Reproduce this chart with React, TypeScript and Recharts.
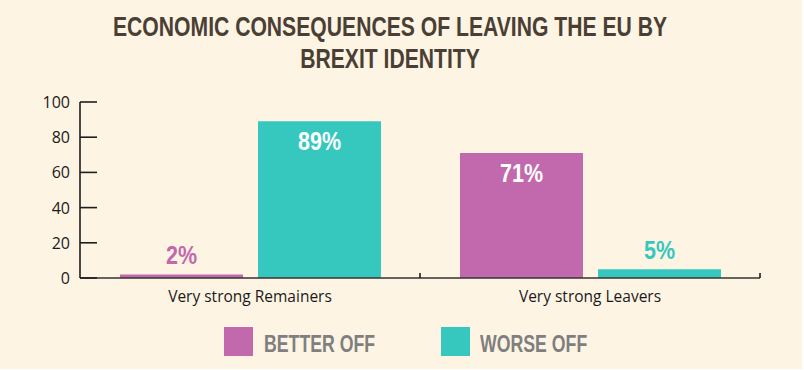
import React from 'react';
import { BarChart, Bar, XAxis, YAxis, LabelList } from 'recharts';

const categories = ['Very strong Remainers', 'Very strong Leavers'];
const betterOff = [2, 71];
const worseOff = [89, 5];
const yTicks = [0, 20, 40, 60, 80, 100];
const seriesNames = ['BETTER OFF', 'WORSE OFF'];
const titleLines = ['ECONOMIC CONSEQUENCES OF LEAVING THE EU BY', 'BREXIT IDENTITY'];

const MAGENTA = '#c269ad';
const TEAL = '#36c8bf';
const BG = '#fef4e4';
const BOLDFONT = '"Liberation Sans", Arial, sans-serif';
const SANS = '"Open Sans", "Noto Sans", sans-serif';

const data = categories.map((c, i) => ({ category: c, better: betterOff[i], worse: worseOff[i] }));

const BAND = 340;

const YTick = (props: any) => {
  const { x, y, payload } = props;
  return (
    <g>
      <line x1={x} x2={x + 17} y1={y} y2={y} stroke="#1e1e1e" strokeWidth={1.6} />
      <text x={x - 10} y={y} dy={6} textAnchor="end" fontSize={16} fill="#1a1a1a" fontFamily={SANS}>
        {payload.value}
      </text>
    </g>
  );
};

const XTick = (props: any) => {
  const { x, y, payload } = props;
  return (
    <g>
      <line x1={x + BAND / 2} x2={x + BAND / 2} y1={y} y2={y - 5} stroke="#1e1e1e" strokeWidth={1.6} />
      <text x={x} y={y} dy={24} textAnchor="middle" fontSize={15.5} fill="#1a1a1a" fontFamily={SANS}>
        {payload.value}
      </text>
    </g>
  );
};

const makeLabel = (color: string) => (props: any) => {
  const { x, y, width, value } = props;
  const inside = Number(value) >= 10;
  const cx = Number(x) + Number(width) / 2;
  const cy = inside ? Number(y) + 29 : Number(y) - 10;
  return (
    <text
      transform={`translate(${cx},${cy}) scale(0.86,1)`}
      textAnchor="middle"
      fill={inside ? '#ffffff' : color}
      fontFamily={BOLDFONT}
      fontWeight="bold"
      fontSize={25}
    >
      {value}%
    </text>
  );
};

export default function App() {
  return (
    <div style={{ position: 'absolute', left: 0, top: 0, width: 802, height: 369, background: BG, overflow: 'hidden' }}>
      <div
        style={{
          position: 'absolute',
          top: 11,
          left: 0,
          width: 780,
          textAlign: 'center',
          fontFamily: BOLDFONT,
          fontWeight: 'bold',
          fontSize: 28,
          lineHeight: '32px',
          color: '#4a3f34',
          transform: 'scaleX(0.755)',
          transformOrigin: '390px 0',
        }}
      >
        {titleLines.map((t) => (
          <div key={t}>{t}</div>
        ))}
      </div>
      <div style={{ position: 'absolute', left: 0, top: 0 }}>
        <BarChart
          width={804}
          height={370}
          data={data}
          margin={{ top: 102, right: 44, bottom: 62, left: 0 }}
          barCategoryGap={40}
          barGap={15}
        >
          <XAxis
            dataKey="category"
            height={30}
            tickSize={0}
            tickMargin={0}
            tick={<XTick />}
            axisLine={{ stroke: '#333', strokeWidth: 1.6 }}
            tickLine={false}
            interval={0}
          />
          <YAxis
            width={80}
            domain={[0, 100]}
            ticks={yTicks}
            interval={0}
            tickSize={0}
            tickMargin={0}
            tick={<YTick />}
            tickLine={false}
            axisLine={{ stroke: '#1e1e1e', strokeWidth: 1.6 }}
          />
          <Bar dataKey="better" name={seriesNames[0]} fill={MAGENTA} isAnimationActive={false}>
            <LabelList dataKey="better" content={makeLabel(MAGENTA)} />
          </Bar>
          <Bar dataKey="worse" name={seriesNames[1]} fill={TEAL} isAnimationActive={false}>
            <LabelList dataKey="worse" content={makeLabel(TEAL)} />
          </Bar>
        </BarChart>
      </div>
      {[
        { name: seriesNames[0], color: MAGENTA, sq: 224, tx: 264 },
        { name: seriesNames[1], color: TEAL, sq: 441, tx: 480 },
      ].map((l) => (
        <React.Fragment key={l.name}>
          <div style={{ position: 'absolute', left: l.sq, top: 327, width: 29, height: 29, background: l.color }} />
          <div
            style={{
              position: 'absolute',
              left: l.tx,
              top: 330,
              fontFamily: BOLDFONT,
              fontWeight: 'bold',
              fontSize: 23,
              lineHeight: '29px',
              color: '#7f7f7f',
              whiteSpace: 'nowrap',
              transform: 'scaleX(0.77)',
              transformOrigin: '0 0',
            }}
          >
            {l.name}
          </div>
        </React.Fragment>
      ))}
    </div>
  );
}
